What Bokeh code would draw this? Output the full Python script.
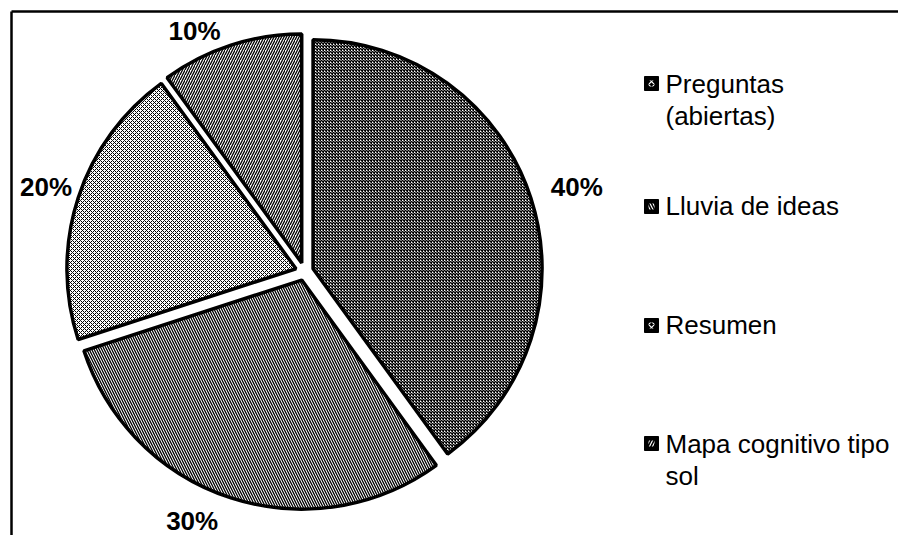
import numpy as np
from bokeh.plotting import figure
from bokeh.models import ColumnDataSource, Range1d
from bokeh.core.properties import value
from bokeh.embed import file_html
from bokeh.resources import INLINE

# ---------------- data ----------------
categories = ["Preguntas (abiertas)", "Lluvia de ideas", "Resumen", "Mapa cognitivo tipo sol"]
legend_lines = [["Preguntas", "(abiertas)"], ["Lluvia de ideas"], ["Resumen"], ["Mapa cognitivo tipo", "sol"]]
shares = [40, 30, 20, 10]
pct_labels = ["40%", "30%", "20%", "10%"]

# ---------------- layout (screen pixels) ----------------
W, H = 898, 535
def sx(px):
    return px
def sy(py):
    return H - py

CX, CY = 304, 271          # pie centre (screen)
R = 229                    # radius
EXPLODE = 9                # explosion distance
LAB_R = [285, 274, 272, 264]
LAB_DA = [-0.8, -6.2, -0.2, 6.6]
LEG_ICON_X = 651
LEG_TEXT_X = 665
LEG_ICON_Y = [83, 206, 325, 443]
LEG_MID_Y = [[83, 115], [205], [324], [443, 475]]
LINE_W = 3.5
FRAME_XY = 11

# ---------------- hatch styles ----------------
patterns = ["x", "\\", "x", "/"]
hscale = [3, 5, 4, 5]
hweight = [1.5, 1.3, 1.0, 1.3]

p = figure(width=W, height=H, output_backend="svg", toolbar_location=None,
           x_range=Range1d(0, W), y_range=Range1d(0, H), min_border=0,
           background_fill_color="white", border_fill_color="white")
p.axis.visible = False
p.grid.visible = False
p.outline_line_color = None

# frame (top + left borders visible, right/bottom beyond the view)
p.segment(x0=[sx(FRAME_XY), sx(FRAME_XY)], y0=[sy(FRAME_XY), sy(FRAME_XY)],
          x1=[W + 20, sx(FRAME_XY)], y1=[sy(FRAME_XY), -20],
          line_color="black", line_width=2.5)

total = float(sum(shares))
cum = np.cumsum([0] + shares) / total
for i, share in enumerate(shares):
    a_start = np.pi / 2 - cum[i] * 2 * np.pi        # clockwise start
    a_end = np.pi / 2 - cum[i + 1] * 2 * np.pi
    mid = (a_start + a_end) / 2
    x0 = sx(CX) + EXPLODE * np.cos(mid)
    y0 = sy(CY) + EXPLODE * np.sin(mid)
    src = ColumnDataSource(dict(x=[x0], y=[y0], s=[a_end], e=[a_start]))
    p.wedge(x="x", y="y", radius=R, start_angle="s", end_angle="e", source=src,
            fill_color="white", line_color="black", line_width=LINE_W,
            hatch_pattern=patterns[i], hatch_color="black",
            hatch_scale=hscale[i], hatch_weight=hweight[i])
    la = mid + np.deg2rad(LAB_DA[i])
    lsrc = ColumnDataSource(dict(x=[sx(CX) + LAB_R[i] * np.cos(la)],
                                 y=[sy(CY) + LAB_R[i] * np.sin(la)],
                                 t=[pct_labels[i]]))
    p.text(x="x", y="y", text="t", source=lsrc, text_font=value("Liberation Sans"),
           text_font_size=value("26px"), text_font_style="bold", text_color="black",
           text_align="center", text_baseline="middle")

# legend
for i, lines in enumerate(legend_lines):
    isrc = ColumnDataSource(dict(x=[sx(LEG_ICON_X)], y=[sy(LEG_ICON_Y[i])]))
    p.rect(x="x", y="y", width=14, height=14, source=isrc, fill_color="black",
           line_color="black", line_width=1)
    p.rect(x="x", y="y", width=6, height=6, source=isrc, fill_color="black",
           line_color=None, hatch_pattern=patterns[i], hatch_color="white",
           hatch_scale=6, hatch_weight=1.2)
    tsrc = ColumnDataSource(dict(x=[sx(LEG_TEXT_X)] * len(lines),
                                 y=[sy(b) for b in LEG_MID_Y[i]], t=lines))
    p.text(x="x", y="y", text="t", source=tsrc, text_font=value("Liberation Sans"),
           text_font_size=value("26px"), text_color="black",
           text_align="left", text_baseline="middle")

open("out.html", "w").write(file_html(p, INLINE))
